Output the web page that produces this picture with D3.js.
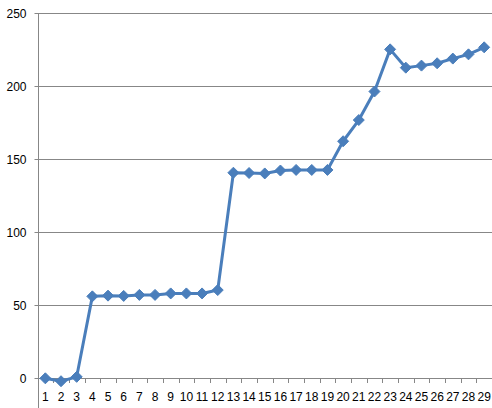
<!DOCTYPE html>
<html><head><meta charset="utf-8">
<script src="https://cdn.jsdelivr.net/npm/d3@7"></script>
<style>body{margin:0;background:#fff}svg{display:block}</style>
</head><body><svg id="c" width="492" height="408"></svg>
<script>
const categories = d3.range(1, 30).map(String);
const values = [0, -2, 1, 56, 56.5, 56.3, 57, 57, 58, 58, 58, 60.3, 140.5, 140.3, 140, 142, 142.4, 142.4, 142.4, 162, 176.5, 196, 224.8, 212.3, 213.7, 215.3, 218.5, 221.4, 226.2];
const yTicks = [0, 50, 100, 150, 200, 250];

(function () {
const svg = d3.select("#c");
const mLeft = 37.5, mRight = 492, mTop = 12.5, mBottom = 378.3;
const x = d3.scaleBand().domain(categories).range([mLeft, mRight]);
const y = d3.scaleLinear().domain([0, 250]).range([mBottom, mTop]);
const font = "'Liberation Sans', Arial, sans-serif";

// gridlines
svg.append("g").selectAll("line").data(yTicks.filter(d => d !== 0)).join("line")
  .attr("x1", mLeft).attr("x2", mRight)
  .attr("y1", d => Math.round(y(d)) + 0.5).attr("y2", d => Math.round(y(d)) + 0.5)
  .attr("stroke", "#878787").attr("stroke-width", 1);

// y axis
const ya = svg.append("g").attr("transform", `translate(${Math.round(mLeft)+0.5},0)`)
  .call(d3.axisLeft(y).tickValues(yTicks).tickSize(4).tickPadding(8));
ya.select(".domain").attr("stroke", "#878787").attr("d", `M0,408V${Math.round(mTop)}`);
ya.selectAll(".tick line").attr("stroke", "#878787");
ya.selectAll(".tick").attr("transform", d => `translate(0,${Math.round(y(d)) + 0.5})`);
ya.selectAll("text").attr("font-family", font).attr("font-size", 12).attr("fill", "#000").attr("dy", "0.36em");

// x axis
const xa = svg.append("g").attr("transform", `translate(0,${Math.round(mBottom)+0.5})`)
  .call(d3.axisBottom(x).tickSize(0));
xa.select(".domain").attr("stroke", "#878787").attr("d", `M${Math.round(mLeft)+0.5},0H${mRight}`);
xa.selectAll("text").attr("font-family", font).attr("font-size", 12).attr("fill", "#000")
  .attr("y", 22.5).attr("dy", 0);
svg.append("g").selectAll("line").data(categories.slice(1)).join("line")
  .attr("x1", d => Math.round(x(d)) + 0.5).attr("x2", d => Math.round(x(d)) + 0.5)
  .attr("y1", Math.round(mBottom)).attr("y2", Math.round(mBottom) + 5)
  .attr("stroke", "#878787");

// line
const cx = (d, i) => x(categories[i]) + x.bandwidth() / 2;
svg.append("path").datum(values)
  .attr("fill", "none").attr("stroke", "#4A7EBB").attr("stroke-width", 3).attr("stroke-linejoin", "round")
  .attr("d", d3.line().x(cx).y(d => y(d)));

// markers
svg.append("g").selectAll("path").data(values).join("path")
  .attr("transform", (d, i) => `translate(${cx(d, i)},${y(d)})`)
  .attr("d", "M0,-5.5L5.5,0L0,5.5L-5.5,0Z")
  .attr("fill", "#4A7EBB").attr("stroke", "#4A7EBB").attr("stroke-width", 1);
})();
</script></body></html>
